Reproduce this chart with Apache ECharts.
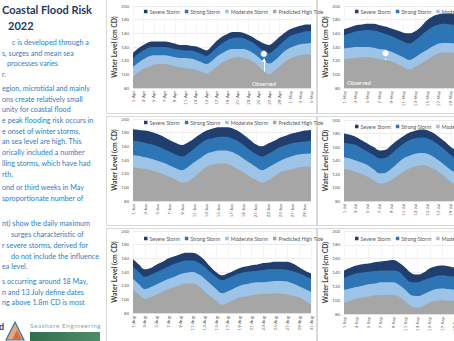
<!DOCTYPE html>
<html><head><meta charset="utf-8">
<script src="https://cdn.jsdelivr.net/npm/echarts@6/dist/echarts.min.js"></script>
<style>
html,body{margin:0;padding:0;width:454px;height:341px;overflow:hidden;background:#fff;}
body{position:relative;}
#chart{position:absolute;left:0;top:0;width:560px;height:341px;z-index:2;}
.panel{position:absolute;border:1px solid #d9d9d9;box-sizing:border-box;z-index:1;}
.t{position:absolute;white-space:nowrap;font-family:Lato,'Open Sans',sans-serif;color:#2f7dbf;font-size:7.2px;line-height:10px;z-index:3;}
.h{position:absolute;white-space:nowrap;font-family:Lato,'Open Sans',sans-serif;font-weight:bold;color:#1f3864;font-size:11px;line-height:14px;z-index:3;}
</style></head>
<body>
<div id="chart"></div>
<script>
// ---------- data ----------
const seriesNames = ['Severe Storm','Strong Storm','Moderate Storm','Predicted High Tide'];

const aprDates = ['1-Apr','2-Apr','3-Apr','4-Apr','5-Apr','6-Apr','7-Apr','8-Apr','9-Apr','10-Apr','11-Apr','12-Apr','13-Apr','14-Apr','15-Apr','16-Apr','17-Apr','18-Apr','19-Apr','20-Apr','21-Apr','22-Apr','23-Apr','24-Apr','25-Apr','26-Apr','27-Apr','28-Apr','29-Apr','30-Apr','1-May','2-May','3-May','4-May','5-May'];
const aprSevere   = [131,138,143,147,148,148,148,147,145,143,143,142,141,138,135,141,149,155,159,162,162,161,158,154,149,145,143,148,155,161,166,169,171,173,173];
const aprStrong   = [123,130,135,139,140,140,140,139,137,136,135,135,133,130,127,132,139,145,150,153,154,153,150,146,140,134,131,136,143,150,156,159,161,163,163];
const aprModerate = [111,117,122,126,128,128,128,127,125,124,124,123,121,118,115,119,126,131,135,137,137,137,135,131,125,119,116,120,127,134,139,142,144,145,146];
const aprTide     = [97,103,108,111,114,115,115,114,112,110,109,108,107,104,101,105,111,117,121,124,125,124,122,118,112,105,100,105,112,118,123,126,128,129,129];

const mayDates = ['1-May','2-May','3-May','4-May','5-May','6-May','7-May','8-May','9-May','10-May','11-May','12-May','13-May','14-May','15-May','16-May','17-May','18-May','19-May','20-May','21-May','22-May','23-May','24-May','25-May','26-May','27-May','28-May','29-May','30-May','31-May'];
const maySevere   = [166,169,172,173,174,174,172,170,167,164,161,160,163,170,179,185,188,189,189,187,184,180,176,174,173,174,176,178,179,178,176];
const mayStrong   = [157,160,163,164,165,164,162,159,156,152,148,145,150,157,164,170,173,174,173,171,168,164,160,158,157,158,160,162,163,162,160];
const mayModerate = [138,139,140,140,140,139,137,136,133,129,125,121,125,131,136,141,145,146,146,144,141,137,134,132,131,132,134,136,137,136,134];
const mayTide     = [122,123,124,125,125,124,122,121,119,115,111,107,111,116,121,127,131,132,132,130,127,123,120,118,117,118,120,122,123,122,120];

const junDates = ['1-Jun','2-Jun','3-Jun','4-Jun','5-Jun','6-Jun','7-Jun','8-Jun','9-Jun','10-Jun','11-Jun','12-Jun','13-Jun','14-Jun','15-Jun','16-Jun','17-Jun','18-Jun','19-Jun','20-Jun','21-Jun','22-Jun','23-Jun','24-Jun','25-Jun','26-Jun','27-Jun','28-Jun','29-Jun','30-Jun'];
const junSevere   = [185,184,183,181,178,174,169,165,162,166,172,178,183,186,188,188,187,183,177,170,163,160,164,168,173,176,179,181,183,184];
const junStrong   = [168,167,165,163,160,156,152,148,145,150,157,164,170,172,174,174,172,168,162,155,149,145,149,154,159,162,165,166,167,168];
const junModerate = [147,146,144,142,139,136,132,128,125,130,137,143,149,152,154,154,152,148,142,136,130,125,129,134,139,143,146,148,149,150];
const junTide     = [129,128,127,125,122,119,115,111,107,109,115,123,130,133,135,135,132,127,122,116,111,107,110,116,122,125,127,129,130,130];

const julDates = ['1-Jul','2-Jul','3-Jul','4-Jul','5-Jul','6-Jul','7-Jul','8-Jul','9-Jul','10-Jul','11-Jul','12-Jul','13-Jul','14-Jul','15-Jul','16-Jul','17-Jul','18-Jul','19-Jul','20-Jul','21-Jul','22-Jul','23-Jul','24-Jul','25-Jul','26-Jul','27-Jul','28-Jul','29-Jul','30-Jul','31-Jul'];
const julSevere   = [180,178,175,170,165,160,155,156,163,170,176,181,184,186,185,181,175,168,160,155,152,153,157,162,167,171,174,175,174,172,170];
const julStrong   = [166,165,163,158,153,148,143,144,150,158,165,170,173,174,173,169,163,156,148,143,140,141,145,150,155,159,162,163,162,160,158];
const julModerate = [145,143,140,137,133,127,121,122,128,136,143,147,150,151,150,146,140,133,126,121,118,119,123,128,133,137,140,141,140,138,136];
const julTide     = [127,126,123,120,116,111,106,107,111,117,123,128,131,133,132,128,123,116,108,103,100,101,105,110,115,119,122,123,122,120,118];

const augDates = ['1-Aug','2-Aug','3-Aug','4-Aug','5-Aug','6-Aug','7-Aug','8-Aug','9-Aug','10-Aug','11-Aug','12-Aug','13-Aug','14-Aug','15-Aug','16-Aug','17-Aug','18-Aug','19-Aug','20-Aug','21-Aug','22-Aug','23-Aug','24-Aug','25-Aug','26-Aug','27-Aug','28-Aug','29-Aug','30-Aug','31-Aug'];
const augSevere   = [159,151,144,146,151,155,160,163,166,168,168,165,158,148,140,135,138,142,146,148,150,151,153,154,155,155,155,152,147,142,138];
const augStrong   = [148,140,133,136,140,144,148,152,155,157,157,154,148,140,133,128,131,135,138,140,141,142,143,144,144,144,143,141,138,134,130];
const augModerate = [130,122,115,118,122,126,130,133,137,139,140,137,131,123,115,109,112,116,120,122,124,125,125,126,127,127,126,123,119,115,111];
const augTide     = [114,107,101,103,107,111,115,118,121,123,123,120,112,105,98,92,95,99,103,104,106,107,108,108,109,108,107,105,103,98,92];

const sepDates = ['1-Sep','2-Sep','3-Sep','4-Sep','5-Sep','6-Sep','7-Sep','8-Sep','9-Sep','10-Sep','11-Sep','12-Sep','13-Sep','14-Sep','15-Sep','16-Sep','17-Sep','18-Sep','19-Sep','20-Sep','21-Sep','22-Sep','23-Sep','24-Sep','25-Sep','26-Sep','27-Sep','28-Sep','29-Sep','30-Sep'];
const sepSevere   = [143,147,150,152,153,155,156,157,158,154,147,139,137,140,146,149,150,149,147,146,147,149,151,152,152,151,150,149,148,148];
const sepStrong   = [132,136,139,140,141,142,143,143,143,141,132,126,126,129,132,135,136,135,134,133,134,136,138,139,139,138,137,136,135,135];
const sepModerate = [115,117,119,121,123,124,126,126,126,122,115,107,106,109,113,116,117,116,115,114,115,117,119,120,120,119,118,117,116,116];
const sepTide     = [96,99,102,104,105,107,108,108,108,105,98,91,89,92,97,99,100,99,99,98,99,101,103,104,104,103,102,101,100,100];

// observed points: [date, observed level, arrow start level, arrow end level, label date, label level]
const aprObserved = ['26-Apr', 130, 95, 123, '26-Apr', 87];
const mayObserved = ['8-May', 131, 93, 123, '3-May', 88];

// ---------- text ----------
const titleLines = [['Coastal Flood Risk',2,3],['2022',8,19]];
const bodyLines = [
 ['c is developed through a',12,38],
 ['s, surges and mean sea',2,49],
 ['processes varies',7,59],
 ['r.',2,70],
 ['egion, microtidal and mainly',2,84],
 ['ons create relatively small',2,95],
 ['unity for coastal flood',2,105],
 ['e peak flooding risk occurs in',2,116],
 ['e onset of winter storms,',2,127],
 ['an sea level are high. This',2,137],
 ['orically included a number',2,148],
 ['lling storms, which have had',2,159],
 ['rth.',2,170],
 ['ond or third weeks in May',2,183],
 ['sproportionate number of',2,194],
 ['nt) show the daily maximum',2,219],
 ['surges characteristic of',11,230],
 ['r severe storms, derived for',2,241],
 ['do not include the influence',11,252],
 ['ea level.',2,262],
 ['s occurring around 18 May,',2,277],
 ['n and 13 July define dates',2,288],
 ['ng above 1.8m CD is most',2,298]
];
titleLines.forEach(([s,x,y])=>{const d=document.createElement('div');d.className='h';d.style.left=x+'px';d.style.top=y+'px';d.textContent=s;document.body.appendChild(d);});
bodyLines.forEach(([s,x,y])=>{const d=document.createElement('div');d.className='t';d.style.left=x+'px';d.style.top=y+'px';d.textContent=s;document.body.appendChild(d);});

// panel frames
[[106,-1,211,115],[317,-1,211,115],[106,116,211,110],[317,116,211,110],[106,228,211,115],[317,228,211,115]].forEach(([x,y,w,h])=>{
  const d=document.createElement('div');d.className='panel';
  d.style.left=x+'px';d.style.top=y+'px';d.style.width=w+'px';d.style.height=h+'px';document.body.appendChild(d);
});

// logos
const logo = document.createElement('div');
logo.style.cssText='position:absolute;left:0;top:318px;width:110px;height:23px;z-index:3;';
logo.innerHTML = '<svg width="110" height="23" xmlns="http://www.w3.org/2000/svg">'+
 '<text x="-1" y="12" font-family="Lato" font-weight="bold" font-size="9" fill="#1f3864">d</text>'+
 '<polygon points="6,22 15,4 24,22" fill="#e9a477" stroke="#2e75b6" stroke-width="1.2"/>'+
 '<polygon points="12,22 17,12 22,22" fill="#c8733f"/>'+
 '<defs><linearGradient id="g" x1="0" x2="1"><stop offset="0" stop-color="#2f6f4f"/><stop offset="1" stop-color="#4e8d68"/></linearGradient></defs>'+
 '<rect x="30" y="14" width="70" height="9" fill="url(#g)"/>'+
 '<text x="30" y="10" font-family="Lato" font-size="6.4" letter-spacing="0.55" fill="#7fa7ab">Seashore Engineering</text>'+
 '</svg>';
document.body.appendChild(logo);

// ---------- chart ----------
const seriesColors = ['#203f6e','#2e75b6','#9dc3e6','#a6a6a6'];
const panelData = [
  {x:aprDates, v:[aprSevere,aprStrong,aprModerate,aprTide], obs:aprObserved},
  {x:mayDates, v:[maySevere,mayStrong,mayModerate,mayTide], obs:mayObserved},
  {x:junDates, v:[junSevere,junStrong,junModerate,junTide]},
  {x:julDates, v:[julSevere,julStrong,julModerate,julTide]},
  {x:augDates, v:[augSevere,augStrong,augModerate,augTide]},
  {x:sepDates, v:[sepSevere,sepStrong,sepModerate,sepTide]}
];
const layout = [
  {left:133, top:6,   height:82, lgLeft:144, lgTop:9},
  {left:344, top:6,   height:82, lgLeft:355, lgTop:9},
  {left:133, top:119, height:82, lgLeft:144, lgTop:120},
  {left:344, top:120, height:81, lgLeft:355, lgTop:124},
  {left:133, top:231, height:82, lgLeft:144, lgTop:236},
  {left:344, top:231, height:83, lgLeft:355, lgTop:236}
];
const font = 'Lato';
const option = {animation:false, grid:[], xAxis:[], yAxis:[], legend:[], series:[]};
panelData.forEach((p,i)=>{
  const L = layout[i];
  option.grid.push({left:L.left, top:L.top, width:178, height:L.height});
  option.xAxis.push({gridIndex:i, type:'category', boundaryGap:false, data:p.x,
    axisLine:{lineStyle:{color:'#d9d9d9',width:0.6}}, axisTick:{show:false},
    axisLabel:{interval:1, rotate:90, fontSize:4.4, color:'#595959', margin:3, fontFamily:font},
    splitLine:{show:true, interval:1, lineStyle:{color:'#ececec', width:0.5}}});
  option.yAxis.push({gridIndex:i, type:'value', min:80, max:200, interval:20,
    name:'Water Level (cm CD)', nameLocation:'middle', nameGap:15,
    nameTextStyle:{fontSize:6.8, fontWeight:'bold', color:'#404040', fontFamily:font},
    axisLine:{show:false}, axisTick:{show:false},
    axisLabel:{fontSize:4.4, color:'#595959', margin:4, fontFamily:font},
    splitLine:{lineStyle:{color:'#d9d9d9', width:0.5}}});
  option.legend.push({left:L.lgLeft, top:L.lgTop, padding:0, itemWidth:3.5, itemHeight:3.5, itemGap:5,
    icon:'rect', data:seriesNames, selectedMode:false,
    textStyle:{fontSize:5.2, color:'#595959', fontFamily:font, padding:[0,0,0,-3]}});
  p.v.forEach((vals,k)=>{
    const s = {name:seriesNames[k], type:'line', xAxisIndex:i, yAxisIndex:i, data:vals,
      smooth:0.4, symbol:'none', silent:true, z:2+k,
      itemStyle:{color:seriesColors[k]},
      lineStyle:{width:0}, areaStyle:{color:seriesColors[k], opacity:1, origin:'start'}};
    if (k===3 && p.obs) {
      const o = p.obs;
      s.markPoint = {silent:true, animation:false, data:[
        {coord:[o[0],o[1]], symbol:'circle', symbolSize:6, itemStyle:{color:'#ffffff', borderColor:'#cfe0f0', borderWidth:0.5}, label:{show:false}},
        {coord:[o[4],o[5]], symbol:'circle', symbolSize:1, itemStyle:{color:'rgba(0,0,0,0)'}, label:{show:true, position:'inside', formatter:'Observed', color:'#ffffff', fontSize:5.6, fontFamily:font, offset: o[4]===o[0]?[0,0]:[3,0]}}
      ]};
      s.markLine = {silent:true, animation:false, symbol:['none','arrow'], symbolSize:4,
        lineStyle:{color:'#ffffff', width:1, type:'solid'}, label:{show:false},
        data:[[{coord:[o[0],o[2]]},{coord:[o[0],o[3]]}]]};
    }
    option.series.push(s);
  });
});
const chart = echarts.init(document.getElementById('chart'), null, {renderer:'svg'});
chart.setOption(option);
</script>
</body></html>
